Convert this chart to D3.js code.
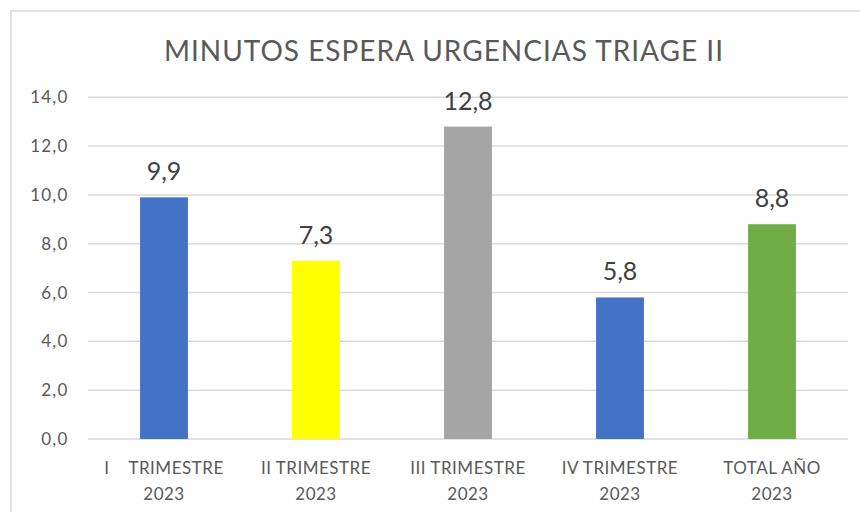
<!DOCTYPE html>
<html><head><meta charset="utf-8">
<script src="https://cdn.jsdelivr.net/npm/d3@7"></script>
<style>
html,body{margin:0;padding:0;background:#fff;}
svg{display:block;font-family:Lato, "Open Sans", sans-serif;}
</style></head>
<body>
<script>
const title = "MINUTOS ESPERA URGENCIAS TRIAGE II";
const categories = [["I    TRIMESTRE","2023"],["II TRIMESTRE","2023"],["III TRIMESTRE","2023"],["IV TRIMESTRE","2023"],["TOTAL AÑO","2023"]];
const values = [9.9, 7.3, 12.8, 5.8, 8.8];
const barColors = ["#4472C4","#FFFF00","#A5A5A5","#4472C4","#70AD47"];
const yTicks = [0,2,4,6,8,10,12,14];

const W = 860, H = 512;
const svg = d3.select("body").append("svg").attr("width", W).attr("height", H);

svg.append("rect").attr("x", 11).attr("y", 11).attr("width", 900).attr("height", 600)
  .attr("fill", "#fff").attr("stroke", "#D9D9D9").attr("stroke-width", 1.5);

const pLeft = 88, pRight = 848, pTop = 97.3, pBottom = 439;
const x = d3.scaleBand().domain(d3.range(values.length)).range([pLeft, pRight]).paddingInner(0.685).paddingOuter(0.3425);
const y = d3.scaleLinear().domain([0, 14]).range([pBottom, pTop]);

svg.append("text").attr("x", 444).attr("y", 61).attr("text-anchor", "middle")
  .attr("fill", "#595959").attr("font-size", 28).attr("letter-spacing", 1).text(title);

const g = svg.append("g");
g.selectAll("line.grid").data(yTicks).enter().append("line")
  .attr("x1", pLeft).attr("x2", pRight)
  .attr("y1", d => y(d)).attr("y2", d => y(d))
  .attr("stroke", "#D9D9D9").attr("stroke-width", 1.5);

g.selectAll("text.ytick").data(yTicks).enter().append("text")
  .attr("x", 68.5).attr("y", d => y(d)).attr("dy", "0.36em")
  .attr("text-anchor", "end").attr("fill", "#595959").attr("font-size", 17).attr("letter-spacing", 1.2)
  .text(d => d.toFixed(1).replace(".", ","));

g.selectAll("rect.bar").data(values).enter().append("rect")
  .attr("x", (d, i) => x(i)).attr("width", x.bandwidth())
  .attr("y", d => y(d)).attr("height", d => y(0) - y(d))
  .attr("fill", (d, i) => barColors[i]);

g.selectAll("text.val").data(values).enter().append("text")
  .attr("x", (d, i) => x(i) + x.bandwidth() / 2).attr("y", d => y(d) - 17)
  .attr("text-anchor", "middle").attr("fill", "#404040").attr("font-size", 25)
  .text(d => d.toFixed(1).replace(".", ","));

const xl = g.selectAll("text.xl").data(categories).enter().append("text")
  .attr("text-anchor", "middle").attr("fill", "#595959").attr("font-size", 17).attr("letter-spacing", 0.5)
  .attr("xml:space", "preserve").style("white-space", "pre");
xl.each(function(d, i) {
  const t = d3.select(this);
  const cx = x(i) + x.bandwidth() / 2;
  d.forEach((line, j) => {
    t.append("tspan").attr("x", cx).attr("y", 474 + j * 26).text(line);
  });
});
</script>
</body></html>
